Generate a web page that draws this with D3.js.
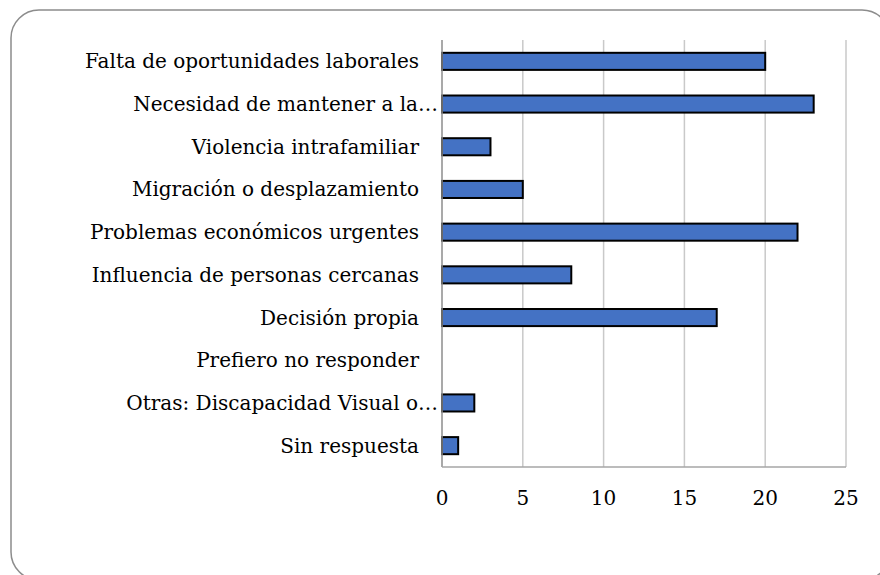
<!DOCTYPE html>
<html>
<head>
<meta charset="utf-8">
<script src="https://cdn.jsdelivr.net/npm/d3@7"></script>
<style>
  body { margin: 0; background: #fff; }
  text { font-family: "DejaVu Serif", serif; fill: #000; }
</style>
</head>
<body>
<div id="chart"></div>
<script>
// chart values, top to bottom
var categories = [
  "Falta de oportunidades laborales",
  "Necesidad de mantener a la…",
  "Violencia intrafamiliar",
  "Migración o desplazamiento",
  "Problemas económicos urgentes",
  "Influencia de personas cercanas",
  "Decisión propia",
  "Prefiero no responder",
  "Otras: Discapacidad Visual o…",
  "Sin respuesta"
];
var values = [20, 23, 3, 5, 22, 8, 17, 0, 2, 1];
var ticks = [0, 5, 10, 15, 20, 25];

var width = 880, height = 575;
var plot = { left: 442, right: 846, top: 40, bottom: 467 };

var svg = d3.select("#chart").append("svg")
  .attr("width", width)
  .attr("height", height);

// frame (runs off the right and bottom edges)
svg.append("rect")
  .attr("x", 11).attr("y", 10)
  .attr("width", 879).attr("height", 570)
  .attr("rx", 28).attr("ry", 28)
  .attr("fill", "none")
  .attr("stroke", "#8c8c8c")
  .attr("stroke-width", 1.5);

var x = d3.scaleLinear().domain([0, 25]).range([plot.left, plot.right]);
var y = d3.scaleBand().domain(categories).range([plot.top, plot.bottom]).paddingInner(0.6).paddingOuter(0.3);

var rows = categories.map((c, i) => ({ name: c, value: values[i] }));

// grid
svg.append("g").selectAll("line")
  .data(ticks.slice(1))
  .enter().append("line")
  .attr("x1", (d) => x(d)).attr("x2", (d) => x(d))
  .attr("y1", plot.top).attr("y2", plot.bottom)
  .attr("stroke", "#c9c9c9")
  .attr("stroke-width", 1.5);

// bars
svg.append("g").selectAll("rect")
  .data(rows.filter((d) => d.value > 0))
  .enter().append("rect")
  .attr("x", x(0))
  .attr("y", (d) => y(d.name))
  .attr("width", (d) => x(d.value) - x(0))
  .attr("height", y.bandwidth())
  .attr("fill", "#4472c4")
  .attr("stroke", "#000")
  .attr("stroke-width", 2);

// axes lines
svg.append("line")
  .attr("x1", plot.left).attr("x2", plot.left)
  .attr("y1", plot.top).attr("y2", plot.bottom)
  .attr("stroke", "#8c8c8c").attr("stroke-width", 1.5);
svg.append("line")
  .attr("x1", plot.left).attr("x2", plot.right)
  .attr("y1", plot.bottom).attr("y2", plot.bottom)
  .attr("stroke", "#a6a6a6").attr("stroke-width", 1.5);

// category labels
svg.append("g").selectAll("text")
  .data(categories)
  .enter().append("text")
  .attr("x", (d) => d.endsWith("…") ? 438 : 419)
  .attr("y", (d) => y(d) + y.bandwidth() / 2)
  .attr("dy", "0.35em")
  .attr("text-anchor", "end")
  .style("font-size", "20px")
  .text((d) => d);

// tick labels
svg.append("g").selectAll("text")
  .data(ticks)
  .enter().append("text")
  .attr("x", (d) => x(d))
  .attr("y", 505)
  .attr("text-anchor", "middle")
  .style("font-size", "20px")
  .text((d) => d);
</script>
</body>
</html>
